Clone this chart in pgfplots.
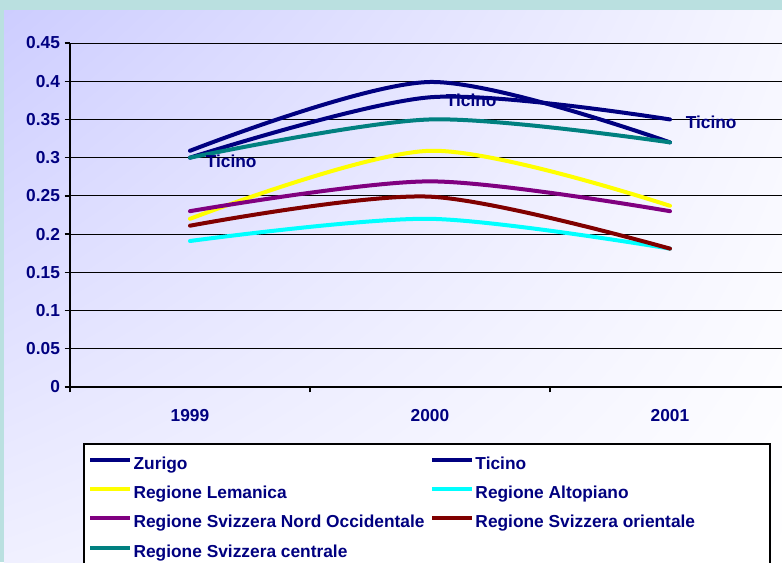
\documentclass[border=0pt]{standalone}
\usepackage{fontspec}
\setmainfont{Liberation Sans}
\usepackage{pgfplots}
\pgfplotsset{compat=1.18}
\usetikzlibrary{shadings}
\definecolor{navyc}{RGB}{0,0,128}
\definecolor{yellowc}{RGB}{255,255,0}
\definecolor{cyanc}{RGB}{0,255,255}
\definecolor{purplec}{RGB}{128,0,128}
\definecolor{darkredc}{RGB}{128,0,0}
\definecolor{tealc}{RGB}{0,128,128}
\definecolor{bgteal}{RGB}{186,224,224}
\definecolor{lavA}{RGB}{205,205,255}
\definecolor{lavB}{RGB}{246,246,255}
\definecolor{lavC}{RGB}{240,240,255}
\newcommand\cf{\fontsize{13}{15.6}\selectfont\bfseries}
\begin{document}
\begin{tikzpicture}[x=0.75pt,y=0.75pt]
\path[use as bounding box] (0,0) rectangle (782,562);
\fill[bgteal] (0,0) rectangle (782,562);
\shade[upper left=lavA, upper right=lavB, lower left=lavC, lower right=white] (4,0) rectangle (782,551);
\filldraw[fill=white, draw=black, line width=1pt] (84,-20) rectangle (770,118);
\begin{axis}[
  at={(52.5pt,131.25pt)}, anchor=south west,
  scale only axis, width=540pt, height=258pt,
  xmin=-0.5, xmax=2.5, ymin=0, ymax=0.45,
  axis lines*=left,
  axis line style={line width=1pt, black},
  tick align=outside,
  major tick length=4pt,
  tick style={black, line width=1pt},
  xtick={-0.5,0.5,1.5,2.5},
  xticklabels={,,,},
  extra x ticks={0,1,2},
  extra x tick labels={1999,2000,2001},
  extra x tick style={major tick length=0pt},
  xticklabel style={yshift=-13.5pt},
  ytick={0,0.05,0.1,0.15,0.2,0.25,0.3,0.35,0.4,0.45},
  scaled y ticks=false,
  yticklabel style={/pgf/number format/fixed, /pgf/number format/precision=2},
  /pgf/number format/assume math mode=true,
  ymajorgrids, grid style={black, line width=0.75pt},
  tick label style={font=\cf, text=navyc},
  legend columns=2,
  legend style={at={(0.025,-0.196)}, anchor=north west, draw=none, fill=none, inner sep=0pt,
    font=\cf, text=navyc,
    nodes={inner sep=1pt, text height=9.8pt, text depth=2.8pt},
    row sep=7.4pt,
    /tikz/every even column/.append style={column sep=3.25pt}},
  legend cell align=left,
  legend image code/.code={\draw[#1, line width=3pt, line cap=butt] (0pt,3.6pt) -- (30pt,3.6pt);},
  every axis plot/.append style={line width=3pt, smooth, line cap=round, line join=round},
]
\addplot[navyc] coordinates {(0,0.309) (1,0.399) (2,0.320)};
\addlegendentry{Zurigo}
\addplot[navyc, nodes near coords={Ticino},
  every node near coord/.append style={anchor=west, xshift=7pt, yshift=-2.5pt, font=\cf, text=navyc}]
  coordinates {(0,0.300) (1,0.379) (2,0.350)};
\addlegendentry{Ticino}
\addplot[yellowc] coordinates {(0,0.220) (1,0.309) (2,0.237)};
\addlegendentry{Regione Lemanica}
\addplot[cyanc] coordinates {(0,0.191) (1,0.220) (2,0.181)};
\addlegendentry{Regione Altopiano}
\addplot[purplec] coordinates {(0,0.230) (1,0.269) (2,0.230)};
\addlegendentry{Regione Svizzera Nord Occidentale}
\addplot[darkredc] coordinates {(0,0.211) (1,0.249) (2,0.181)};
\addlegendentry{Regione Svizzera orientale}
\addplot[tealc] coordinates {(0,0.300) (1,0.350) (2,0.320)};
\addlegendentry{Regione Svizzera centrale}
\end{axis}
\end{tikzpicture}
\end{document}
